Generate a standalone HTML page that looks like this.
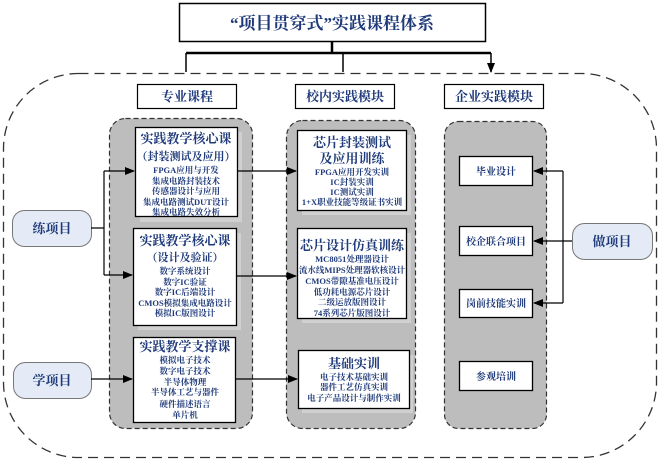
<!DOCTYPE html>
<html><head><meta charset="utf-8"><style>
html,body{margin:0;padding:0;background:#fff;}
svg{display:block;font-family:"Liberation Serif","Noto Serif CJK SC","Noto Sans CJK SC",serif;}
.t{fill:#1f3a7a;font-weight:bold;text-anchor:middle;}
</style></head><body>
<svg width="661" height="462" viewBox="0 0 661 462" xmlns="http://www.w3.org/2000/svg">
<defs>
<marker id="a" markerWidth="10" markerHeight="8" refX="9" refY="4" orient="auto" markerUnits="userSpaceOnUse"><path d="M0,0 L10,4 L0,8 z" fill="#000"/></marker>
</defs>
<!-- title -->
<rect x="179.5" y="3.5" width="306" height="38" fill="#fff" stroke="#000" stroke-width="1.5"/>
<text x="332" y="29" font-size="17" font-weight="bold" text-anchor="middle" fill="#1f3a7a">“项目贯穿式”实践课程体系</text>
<path d="M332,42 V53 M186,53 H491" stroke="#000" stroke-width="2.5" fill="none"/>
<path d="M186,53 V72 M343,53 V72 M491,53 V72" stroke="#000" stroke-width="1.5" fill="none" marker-end="url(#a)"/>
<!-- outer dashed -->
<rect x="3.5" y="73.5" width="653" height="384" rx="75" fill="none" stroke="#333" stroke-width="1.3" stroke-dasharray="10,6"/>
<!-- headers -->
<rect x="137.5" y="84.5" width="99" height="24" fill="#fff" stroke="#000" stroke-width="1.2"/>
<text class="t" x="187" y="101" font-size="13">专业课程</text>
<rect x="295.5" y="84.5" width="99" height="24" fill="#fff" stroke="#000" stroke-width="1.2"/>
<text class="t" x="345" y="101" font-size="13">校内实践模块</text>
<rect x="444.5" y="84.5" width="99" height="24" fill="#fff" stroke="#000" stroke-width="1.2"/>
<text class="t" x="494" y="101" font-size="13">企业实践模块</text>
<!-- panels -->
<rect x="109.5" y="118.5" width="143" height="310" rx="16" fill="#bdbdbd" stroke="#333" stroke-width="1.2" stroke-dasharray="5,3"/>
<rect x="286.5" y="120.5" width="129" height="308" rx="16" fill="#bdbdbd" stroke="#333" stroke-width="1.2" stroke-dasharray="5,3"/>
<rect x="444.5" y="121.5" width="102" height="307" rx="14" fill="#bdbdbd" stroke="#333" stroke-width="1.2" stroke-dasharray="5,3"/>
<!-- shadows -->
<rect x="140" y="132" width="102" height="90" fill="#d0d0d0"/>
<rect x="138" y="233" width="103" height="97" fill="#d0d0d0"/>
<rect x="302" y="135" width="109" height="80" fill="#d0d0d0"/>
<rect x="302" y="233" width="109" height="90" fill="#d0d0d0"/>
<rect x="302" y="355" width="111" height="58" fill="#d0d0d0"/>
<!-- col1 boxes -->
<rect x="135.5" y="127.5" width="102" height="89" fill="#fff" stroke="#000" stroke-width="1.3"/>
<text class="t" x="186" y="143" font-size="13">实践教学核心课</text>
<text class="t" x="186" y="160" font-size="11">（封装测试及应用）</text>
<g class="t" font-size="8.5"><text x="186" y="173">FPGA应用与开发</text><text x="186" y="184">集成电路封装技术</text><text x="186" y="194">传感器设计与应用</text><text x="186" y="205">集成电路测试DUT设计</text><text x="186" y="215">集成电路失效分析</text></g>
<rect x="133.5" y="228.5" width="103" height="97" fill="#fff" stroke="#000" stroke-width="1.3"/>
<text class="t" x="185" y="245" font-size="13">实践教学核心课</text>
<text class="t" x="185" y="261" font-size="11">（设计及验证）</text>
<g class="t" font-size="8.5"><text x="185" y="274">数字系统设计</text><text x="185" y="285">数字IC验证</text><text x="185" y="295">数字IC后端设计</text><text x="185" y="306">CMOS模拟集成电路设计</text><text x="185" y="316">模拟IC版图设计</text></g>
<rect x="133.5" y="337.5" width="102" height="85" fill="#fff" stroke="#000" stroke-width="1.3"/>
<text class="t" x="185" y="351" font-size="13">实践教学支撑课</text>
<g class="t" font-size="8.5"><text x="185" y="363">模拟电子技术</text><text x="185" y="374">数字电子技术</text><text x="185" y="385">半导体物理</text><text x="185" y="395">半导体工艺与器件</text><text x="185" y="407">硬件描述语言</text><text x="185" y="418">单片机</text></g>
<!-- col2 boxes -->
<rect x="297.5" y="130.5" width="109" height="80" fill="#fff" stroke="#000" stroke-width="1.3"/>
<text class="t" x="352" y="147" font-size="13">芯片封装测试</text>
<text class="t" x="352" y="163" font-size="13">及应用训练</text>
<g class="t" font-size="8.5"><text x="352" y="175">FPGA应用开发实训</text><text x="352" y="185">IC封装实训</text><text x="352" y="195">IC测试实训</text><text x="352" y="205">1+X职业技能等级证书实训</text></g>
<rect x="297.5" y="228.5" width="109" height="90" fill="#fff" stroke="#000" stroke-width="1.3"/>
<text class="t" x="352" y="250" font-size="13">芯片设计仿真训练</text>
<g class="t" font-size="8.5"><text x="352" y="262">MC8051处理器设计</text><text x="352" y="273">流水线MIPS处理器软核设计</text><text x="352" y="284">CMOS带隙基准电压设计</text><text x="352" y="295">低功耗电源芯片设计</text><text x="352" y="305">二级运放版图设计</text><text x="352" y="316">74系列芯片版图设计</text></g>
<rect x="298.5" y="350.5" width="111" height="58" fill="#fff" stroke="#000" stroke-width="1.3"/>
<text class="t" x="354" y="368" font-size="13">基础实训</text>
<g class="t" font-size="8.5"><text x="354" y="380">电子技术基础实训</text><text x="354" y="390">器件工艺仿真实训</text><text x="354" y="401">电子产品设计与制作实训</text></g>
<!-- col3 boxes -->
<rect x="459.5" y="156.5" width="73" height="29" fill="#fff" stroke="#000" stroke-width="1.3"/>
<text class="t" x="496" y="175" font-size="10">毕业设计</text>
<rect x="459.5" y="226.5" width="73" height="29" fill="#fff" stroke="#000" stroke-width="1.3"/>
<text class="t" x="496" y="245" font-size="10">校企联合项目</text>
<rect x="459.5" y="289.5" width="73" height="28" fill="#fff" stroke="#000" stroke-width="1.3"/>
<text class="t" x="496" y="307" font-size="10">岗前技能实训</text>
<rect x="459.5" y="361.5" width="73" height="29" fill="#fff" stroke="#000" stroke-width="1.3"/>
<text class="t" x="496" y="380" font-size="10">参观培训</text>
<!-- ovals -->
<rect x="12.5" y="210.5" width="79" height="36" rx="12" fill="#e4ebf6" stroke="#777" stroke-width="1"/>
<text class="t" x="52" y="233" font-size="13">练项目</text>
<rect x="13.5" y="362.5" width="78" height="36" rx="12" fill="#e4ebf6" stroke="#777" stroke-width="1"/>
<text class="t" x="52" y="385" font-size="13">学项目</text>
<rect x="572.5" y="223.5" width="80" height="36" rx="12" fill="#e4ebf6" stroke="#777" stroke-width="1"/>
<text class="t" x="612" y="246" font-size="13">做项目</text>
<!-- connectors -->
<g stroke="#000" stroke-width="1.2" fill="none">
<path d="M91,228 H104 M104,171 V275"/>
<path d="M104,171 H134" marker-end="url(#a)"/>
<path d="M104,275 H132" marker-end="url(#a)"/>
<path d="M91,379 H132" marker-end="url(#a)"/>
<path d="M237,171 H296" marker-end="url(#a)"/>
<path d="M237,276 H296" marker-end="url(#a)"/>
<path d="M236,379 H297" marker-end="url(#a)"/>
<path d="M563,171 V303"/>
<path d="M563,171 H534" marker-end="url(#a)"/>
<path d="M572,241 H534" marker-end="url(#a)"/>
<path d="M563,303 H534" marker-end="url(#a)"/>
</g>
</svg>
</body></html>
